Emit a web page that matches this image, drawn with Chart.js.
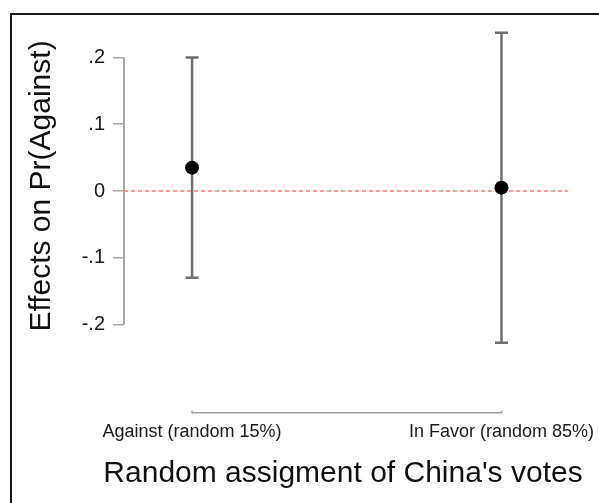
<!DOCTYPE html>
<html><head><meta charset="utf-8">
<script src="https://cdn.jsdelivr.net/npm/chart.js@4.4.0/dist/chart.umd.min.js"></script>
<style>
html,body{margin:0;padding:0;background:#fff;}
#wrap{position:relative;width:599px;height:503px;overflow:hidden;background:#fff;}
#frame{position:absolute;left:10px;top:13px;width:700px;height:600px;border-top:2px solid #1a1a1a;border-left:2px solid #1a1a1a;pointer-events:none;}
canvas{position:absolute;left:0;top:0;}
</style></head><body>
<div id="wrap"><canvas id="c" width="599" height="503"></canvas><div id="frame"></div></div>
<script>
// ---- data ----
const CATEGORIES = ["Against (random 15%)", "In Favor (random 85%)"];
const X_POS = [1, 2];
const ESTIMATES = [0.035, 0.005];
const CI_LOWER = [-0.130, -0.227];
const CI_UPPER = [0.200, 0.237];
const Y_TICKS = [-0.2, -0.1, 0, 0.1, 0.2];
const Y_TICK_LABELS = ["-.2", "-.1", "0", ".1", ".2"];
const REF_VALUE = 0;
const X_TITLE = "Random assigment of China's votes";
const Y_TITLE = "Effects on Pr(Against)";

// ---- style ----
const FONT = "'Liberation Sans', Arial, Helvetica, sans-serif";
const X_AXIS_AT = -0.332;

const customPlugin = {
  id: 'custom',
  beforeDatasetsDraw(chart) {
    const {ctx, chartArea: a, scales: {x, y}} = chart;
    ctx.save();
    ctx.lineCap = 'butt';
    // partial y axis line
    ctx.strokeStyle = '#a8a8a8'; ctx.lineWidth = 2;
    ctx.beginPath();
    ctx.moveTo(a.left, y.getPixelForValue(Y_TICKS[0]));
    ctx.lineTo(a.left, y.getPixelForValue(Y_TICKS[Y_TICKS.length - 1]));
    ctx.stroke();
    // partial x axis line
    const ay = y.getPixelForValue(X_AXIS_AT);
    ctx.strokeStyle = '#a0a0a0'; ctx.lineWidth = 1.5;
    ctx.beginPath();
    ctx.moveTo(x.getPixelForValue(X_POS[0]), ay - 2);
    ctx.lineTo(x.getPixelForValue(X_POS[0]), ay);
    ctx.lineTo(x.getPixelForValue(X_POS[X_POS.length - 1]), ay);
    ctx.lineTo(x.getPixelForValue(X_POS[X_POS.length - 1]), ay - 2);
    ctx.stroke();
    // reference line
    ctx.strokeStyle = '#ff7878'; ctx.lineWidth = 1.5; ctx.setLineDash([4, 3]);
    const ry = y.getPixelForValue(REF_VALUE);
    ctx.beginPath(); ctx.moveTo(a.left, ry); ctx.lineTo(a.right, ry); ctx.stroke();
    ctx.setLineDash([]);
    // error bars
    ctx.strokeStyle = '#6e6e6e'; ctx.lineWidth = 2.5;
    X_POS.forEach((xv, i) => {
      const px = x.getPixelForValue(xv);
      const lo = y.getPixelForValue(CI_LOWER[i]);
      const hi = y.getPixelForValue(CI_UPPER[i]);
      ctx.beginPath();
      ctx.moveTo(px, lo); ctx.lineTo(px, hi);
      ctx.moveTo(px - 6.5, lo); ctx.lineTo(px + 6.5, lo);
      ctx.moveTo(px - 6.5, hi); ctx.lineTo(px + 6.5, hi);
      ctx.stroke();
    });
    ctx.restore();
  },
  afterDraw(chart) {
    // x axis title (drawn unsqueezed, centred under the plot area)
    const {ctx, chartArea: a, scales: {x}} = chart;
    ctx.save();
    ctx.font = "30px " + FONT;
    ctx.fillStyle = '#111';
    ctx.textAlign = 'center';
    ctx.textBaseline = 'alphabetic';
    ctx.fillText(X_TITLE, (a.left + a.right) / 2 - 3, x.bottom - 21);
    ctx.restore();
  }
};

new Chart(document.getElementById('c'), {
  type: 'scatter',
  data: {
    datasets: [{
      data: X_POS.map((xv, i) => ({x: xv, y: ESTIMATES[i]})),
      pointRadius: 7, pointHoverRadius: 7,
      backgroundColor: '#000', borderColor: '#000', borderWidth: 0,
      clip: false
    }]
  },
  options: {
    responsive: false, animation: false, events: [],
    layout: {padding: {top: 24, right: 31, left: 0, bottom: 0}},
    plugins: {legend: {display: false}, tooltip: {enabled: false}},
    scales: {
      x: {
        type: 'linear', min: 0.78, max: 2.215, position: 'bottom',
        afterBuildTicks: s => { s.ticks = X_POS.map(v => ({value: v})); },
        afterFit: s => { s.height = 155; s.paddingLeft = 0; s.paddingRight = 0; },
        ticks: {
          callback: (v, i) => CATEGORIES[i],
          padding: 73, autoSkip: false, maxRotation: 0,
          font: {family: FONT, size: 18}, color: '#1a1a1a'
        },
        grid: {display: false, drawTicks: false},
        border: {display: false},
        title: {display: false, text: X_TITLE}
      },
      y: {
        type: 'linear', min: -0.235, max: 0.25,
        afterBuildTicks: s => { s.ticks = Y_TICKS.map(v => ({value: v})); },
        afterFit: s => { s.width = 124; s.paddingTop = 0; s.paddingBottom = 0; },
        ticks: {
          callback: (v, i) => Y_TICK_LABELS[i],
          padding: 8, font: {family: FONT, size: 20}, color: '#1a1a1a'
        },
        grid: {drawOnChartArea: false, drawTicks: true, tickLength: 11, color: '#a8a8a8', lineWidth: 1.5},
        border: {display: false},
        title: {display: true, text: Y_TITLE, font: {family: FONT, size: 30}, color: '#111', padding: {top: 24, bottom: 0}}
      }
    }
  },
  plugins: [customPlugin]
});
</script>
</body></html>
